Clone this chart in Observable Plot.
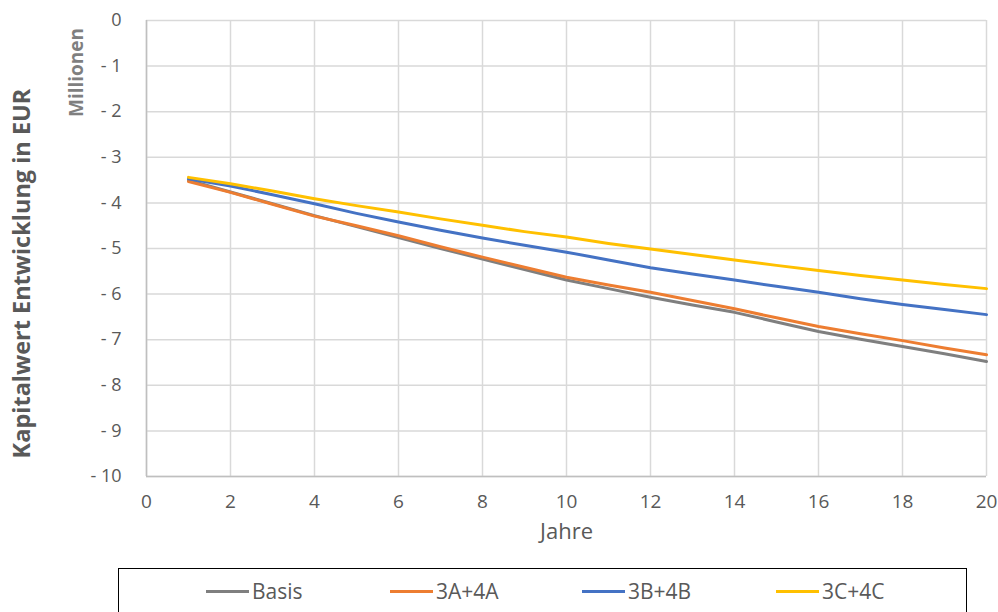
<!DOCTYPE html>
<html>
<head>
<meta charset="utf-8">
<script src="https://cdn.jsdelivr.net/npm/d3@7"></script>
<script src="https://cdn.jsdelivr.net/npm/@observablehq/plot@0.6"></script>
<style>
  html, body { margin: 0; padding: 0; background: #fff; overflow: hidden; }
  body { width: 998px; height: 612px; position: relative; font-family: "Open Sans", "Liberation Sans", sans-serif; }
  #legend { position: absolute; left: 118px; top: 568px; width: 849px; height: 60px; border: 1.5px solid #000; box-sizing: border-box; }
  .item { position: absolute; top: 8px; display: flex; align-items: center; font-size: 21px; color: #595959; }
  .sw { display: inline-block; width: 43px; height: 3px; margin-right: 3px; }
</style>
</head>
<body>
<div id="chart"></div>
<div id="legend"></div>
<script>
const years = [1,2,3,4,5,6,7,8,9,10,11,12,13,14,15,16,17,18,19,20];
const seriesNames = ["Basis", "3A+4A", "3B+4B", "3C+4C"];
const seriesColors = ["#7f7f7f", "#ED7D31", "#4472C4", "#FFC000"];
const basis = [-3.50,-3.76,-4.02,-4.28,-4.52,-4.76,-5.00,-5.23,-5.46,-5.69,-5.88,-6.07,-6.24,-6.40,-6.61,-6.82,-6.99,-7.15,-7.31,-7.48];
const v3A4A = [-3.53,-3.77,-4.03,-4.29,-4.50,-4.72,-4.96,-5.19,-5.41,-5.63,-5.80,-5.96,-6.14,-6.32,-6.52,-6.71,-6.87,-7.02,-7.18,-7.33];
const v3B4B = [-3.47,-3.63,-3.82,-4.02,-4.23,-4.42,-4.60,-4.77,-4.93,-5.08,-5.25,-5.42,-5.56,-5.69,-5.83,-5.96,-6.10,-6.23,-6.34,-6.45];
const v3C4C = [-3.44,-3.58,-3.74,-3.91,-4.06,-4.20,-4.35,-4.49,-4.63,-4.75,-4.89,-5.01,-5.13,-5.25,-5.37,-5.48,-5.59,-5.69,-5.79,-5.88];
const xTicks = [0,2,4,6,8,10,12,14,16,18,20];
const yTicks = [0,-1,-2,-3,-4,-5,-6,-7,-8,-9,-10];
const xLabel = "Jahre";
const yLabel = "Kapitalwert Entwicklung in EUR";
const unitLabel = "Millionen";

const allValues = [basis, v3A4A, v3B4B, v3C4C];
const data = [];
seriesNames.forEach((name, i) => {
  years.forEach((yr, j) => data.push({series: name, year: yr, value: allValues[i][j]}));
});

const fmt = d => d < 0 ? "- " + (-d) : String(d);
const fontFam = '"Open Sans", "Liberation Sans", sans-serif';

const chart = Plot.plot({
  width: 998,
  height: 560,
  marginLeft: 146,
  marginRight: 12,
  marginTop: 20,
  marginBottom: 84,
  style: {fontFamily: fontFam, fontSize: "17px", color: "#595959", background: "#fff", overflow: "visible"},
  x: {domain: [0, 20]},
  y: {domain: [-10, 0]},
  color: {domain: seriesNames, range: seriesColors},
  marks: [
    Plot.gridX(xTicks, {stroke: "#d9d9d9", strokeOpacity: 1, strokeWidth: 1.5}),
    Plot.gridY(yTicks, {stroke: "#d9d9d9", strokeOpacity: 1, strokeWidth: 1.5}),
    Plot.ruleX([0], {stroke: "#bfbfbf", strokeWidth: 1.5}),
    Plot.ruleY([-10], {stroke: "#bfbfbf", strokeWidth: 1.5}),
    Plot.axisX(xTicks, {tickSize: 0, tickPadding: 18, label: null, fill: "#595959", fontSize: 19}),
    Plot.axisY(yTicks, {tickSize: 0, tickPadding: 25, label: null, tickFormat: fmt, fill: "#595959", fontSize: 18}),
    Plot.line(data, {x: "year", y: "value", z: "series", stroke: "series", strokeWidth: 3, strokeLinejoin: "round", strokeLinecap: "round"}),
    Plot.text([xLabel], {frameAnchor: "bottom", dy: 62, fill: "#595959", fontSize: 22}),
    Plot.text([yLabel], {frameAnchor: "left", textAnchor: "middle", dx: -124, dy: 25, rotate: -90, fill: "#595959", fontSize: 23.5, fontWeight: "bold"}),
    Plot.text([unitLabel], {frameAnchor: "top-left", textAnchor: "middle", dx: -77, dy: 52, rotate: -90, fill: "#7f7f7f", fontSize: 19, fontWeight: "bold"})
  ]
});
document.getElementById("chart").appendChild(chart);

const legendX = [87, 271, 463, 657];
const legend = document.getElementById("legend");
seriesNames.forEach((name, i) => {
  const it = document.createElement("div");
  it.className = "item";
  it.style.left = legendX[i] + "px";
  const sw = document.createElement("span");
  sw.className = "sw";
  sw.style.background = seriesColors[i];
  it.appendChild(sw);
  it.appendChild(document.createTextNode(name));
  legend.appendChild(it);
});
</script>
</body>
</html>
